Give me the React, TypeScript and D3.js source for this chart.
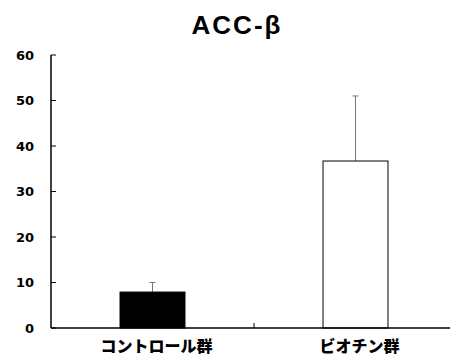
import React from "react";
import * as d3 from "d3";

const categories = ["コントロール群", "ビオチン群"];
const values = [7.9, 36.7];
const errors = [2.1, 14.3];
const fills = ["#000000", "#ffffff"];
const yTicks = [0, 10, 20, 30, 40, 50, 60];

export default function App() {
  const width = 450;
  const height = 356;
  const margin = { top: 55, left: 51, bottom: 28 };
  const plotRight = 457;

  const y = d3.scaleLinear().domain([0, 60]).range([height - margin.bottom, margin.top]);
  const x = d3.scaleBand().domain(categories).range([margin.left, plotRight]).paddingInner(0.68).paddingOuter(0.34);

  const y0 = y(0);

  return (
    <div style={{ position: "absolute", left: 0, top: 0 }}>
      <svg width={width} height={height} style={{ display: "block", fontFamily: "'Noto Sans CJK JP', 'DejaVu Sans', sans-serif" }}>
        <rect width={width} height={height} fill="#fff" />
        {/* title */}
        <text x={237} y={34} textAnchor="middle" fontSize={26} fontWeight="bold" letterSpacing={2} fontFamily="'Liberation Sans', Arial, sans-serif">
          ACC-β
        </text>

        {/* bars */}
        {categories.map((c, i) => {
          const bx = x(c)!;
          const cx = bx + x.bandwidth() / 2;
          return (
            <g key={c}>
              <line x1={cx} x2={cx} y1={y(values[i])} y2={y(values[i] + errors[i])} stroke="#777" strokeWidth={1} />
              <line x1={cx - 3} x2={cx + 3} y1={y(values[i] + errors[i])} y2={y(values[i] + errors[i])} stroke="#777" strokeWidth={1} />
              <rect x={bx} y={y(values[i])} width={x.bandwidth()} height={y0 - y(values[i])} fill={fills[i]} stroke="#000" strokeWidth={1} />
            </g>
          );
        })}

        {/* y axis */}
        <line x1={margin.left} x2={margin.left} y1={y(60)} y2={y0} stroke="#000" strokeWidth={1.5} />
        {yTicks.map((t) => (
          <g key={t}>
            <line x1={margin.left} x2={margin.left + 5} y1={y(t)} y2={y(t)} stroke="#000" strokeWidth={1} />
            <text x={34} y={y(t)} dy="0.36em" textAnchor="end" fontSize={13} fontWeight="bold" fontFamily="'DejaVu Sans', sans-serif">
              {t}
            </text>
          </g>
        ))}

        {/* x axis */}
        <line x1={margin.left} x2={plotRight} y1={y0} y2={y0} stroke="#000" strokeWidth={1.5} />
        <line x1={(margin.left + plotRight) / 2} x2={(margin.left + plotRight) / 2} y1={y0} y2={y0 - 5} stroke="#000" strokeWidth={1} />
        {categories.map((c) => (
          <text key={c} x={x(c)! + x.bandwidth() / 2 + 4} y={352} textAnchor="middle" fontSize={16} fontWeight={900}>
            {c}
          </text>
        ))}
      </svg>
    </div>
  );
}
